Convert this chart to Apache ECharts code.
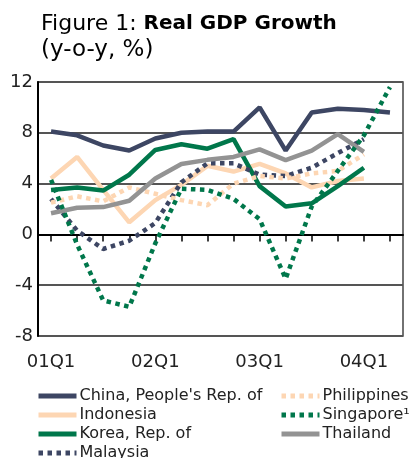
<!DOCTYPE html>
<html><head><meta charset="utf-8">
<script src="https://cdn.jsdelivr.net/npm/echarts@6/dist/echarts.min.js"></script>
<style>html,body{margin:0;padding:0;background:#fff}#c{width:411px;height:458px}</style>
</head><body><div id="c"></div>
<script>
var categories = ['01Q1','01Q2','01Q3','01Q4','02Q1','02Q2','02Q3','02Q4','03Q1','03Q2','03Q3','03Q4','04Q1','04Q2'];
var china      = [8.1, 7.8, 7.0, 6.6, 7.55, 8.0, 8.1, 8.1, 10.0, 6.6, 9.6, 9.9, 9.8, 9.6];
var indonesia  = [4.4, 6.1, 3.5, 0.95, 2.7, 3.9, 5.4, 4.95, 5.55, 4.8, 3.7, 4.2, 4.4, null];
var korea      = [3.5, 3.7, 3.45, 4.7, 6.65, 7.1, 6.75, 7.5, 3.8, 2.2, 2.45, 3.8, 5.25, null];
var malaysia   = [2.8, 0.3, -1.15, -0.5, 0.9, 4.1, 5.6, 5.6, 4.7, 4.6, 5.25, 6.4, 7.5, null];
var philippines= [2.5, 3.0, 2.6, 3.7, 3.2, 2.7, 2.3, 4.0, 4.6, 4.4, 4.8, 5.0, 6.3, null];
var singapore  = [4.3, -0.8, -5.2, -5.7, -0.7, 3.6, 3.5, 2.8, 1.2, -3.5, 2.2, 5.0, 7.8, 11.6];
var thailand   = [1.66, 2.1, 2.15, 2.65, 4.4, 5.55, 5.87, 6.1, 6.7, 5.85, 6.6, 7.9, 6.5, null];
var yTicks = {min: -8, max: 12, interval: 4};

var NAVY = '#3d4663', PEACH = '#fdd6b3', GREEN = '#00774b', GREY = '#939393';
var FONT = 'DejaVu Sans';
function solid(name, data, color) {
  return {name: name, type: 'line', data: data, symbol: 'none', smooth: false,
    lineStyle: {color: color, width: 4.5, cap: 'butt'}, itemStyle: {color: color}};
}
function dotted(name, data, color) {
  return {name: name, type: 'line', data: data, symbol: 'none', smooth: false,
    lineStyle: {color: color, width: 4.5, type: [4.5, 4.5], cap: 'butt'}, itemStyle: {color: color}};
}
function legendBox(names, left) {
  return {data: names, orient: 'horizontal', left: left, top: 388, width: 40,
    itemWidth: 38, itemHeight: 14, itemGap: 3, padding: 0,
    itemStyle: {opacity: 0},
    lineStyle: {width: 5},
    textStyle: {fontFamily: FONT, fontSize: 16, color: '#222', padding: [0, 0, 0, -2]}};
}
var chart = echarts.init(document.getElementById('c'), null, {renderer: 'canvas'});
chart.setOption({
  animation: false,
  backgroundColor: '#fff',
  title: {
    left: 41, top: 11, padding: 0,
    text: '{r|Figure 1: }{b|Real GDP Growth}\n{s|(y-o-y, %)}',
    textStyle: {fontFamily: FONT, fontSize: 22, fontWeight: 'normal', color: '#000', lineHeight: 26,
      rich: {
        r: {fontFamily: FONT, fontSize: 22, fontWeight: 'normal', color: '#000', lineHeight: 26},
        b: {fontFamily: FONT, fontSize: 20, fontWeight: 'bold', color: '#000', lineHeight: 26},
        s: {fontFamily: FONT, fontSize: 23, fontWeight: 'normal', color: '#000', lineHeight: 26}
      }}
  },
  grid: {left: 38, right: 8, top: 82, bottom: 122, show: true, borderColor: '#444', borderWidth: 1.5},
  xAxis: {
    type: 'category', data: categories, boundaryGap: true,
    axisLine: {lineStyle: {color: '#000', width: 2}},
    axisTick: {show: true, interval: 0, alignWithLabel: true, length: 7, lineStyle: {color: '#000', width: 1.5}},
    axisLabel: {interval: 3, margin: 17, fontFamily: FONT, fontSize: 18, color: '#222'},
    splitLine: {show: false}
  },
  yAxis: {
    type: 'value', min: yTicks.min, max: yTicks.max, interval: yTicks.interval,
    axisLine: {show: true, lineStyle: {color: '#000', width: 2}},
    axisTick: {show: false},
    axisLabel: {margin: 5, fontFamily: FONT, fontSize: 18, color: '#222'},
    splitLine: {show: true, lineStyle: {color: ['#555', '#555', '#000', '#555', '#555', '#555'], width: 1.8}}
  },
  legend: [
    legendBox(['China, People\'s Rep. of', 'Indonesia', 'Korea, Rep. of', 'Malaysia'], 36),
    legendBox(['Philippines', 'Singapore\u00b9', 'Thailand'], 279)
  ],
  series: [
    solid('China, People\'s Rep. of', china, NAVY),
    solid('Indonesia', indonesia, PEACH),
    solid('Korea, Rep. of', korea, GREEN),
    dotted('Malaysia', malaysia, NAVY),
    dotted('Philippines', philippines, PEACH),
    solid('Thailand', thailand, GREY),
    dotted('Singapore\u00b9', singapore, GREEN)
  ]
});
</script></body></html>
